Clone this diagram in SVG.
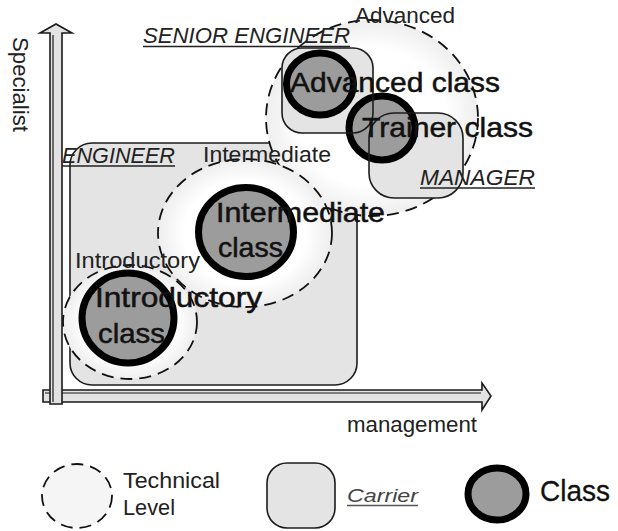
<svg xmlns="http://www.w3.org/2000/svg" width="618" height="531" viewBox="0 0 618 531">
  <defs>
    <radialGradient id="haloFill" cx="0.5" cy="0.5" r="0.5">
      <stop offset="0" stop-color="#ffffff"/>
      <stop offset="0.7" stop-color="#ffffff"/>
      <stop offset="1" stop-color="#eeeeee"/>
    </radialGradient>
  </defs>
  <style>
    .axis { fill: #e2e2e2; stroke: #1a1a1a; stroke-width: 1.6; stroke-linejoin: miter; }
    .axis-shade { stroke: #1a1a1a; stroke-width: 1.2; fill: none; }
    .level { fill: url(#haloFill); stroke: #111; stroke-width: 1.8; stroke-dasharray: 12 7; }
    .carrier-fill { fill: #e4e4e4; stroke: none; }
    .carrier-line { fill: none; stroke: #1c1c1c; stroke-width: 1.6; }
    .carrier { fill: #e4e4e4; stroke: #1c1c1c; stroke-width: 1.6; }
    .class { fill: #9c9c9c; stroke: #000; stroke-width: 7; }
    .big { font-family: "Liberation Sans", Arial, sans-serif; font-size: 28px; fill: #111; stroke: #111; stroke-width: 0.5; }
    .small { font-family: "Liberation Sans", Arial, sans-serif; font-size: 21.5px; fill: #222; }
    .role { font-family: "Liberation Sans", Arial, sans-serif; font-size: 21.5px; font-style: italic; fill: #222; }
    .uline { stroke: #222; stroke-width: 1.5; }
  </style>

  <!-- axes -->
  <g id="connectors">
    <path id="axis-management" class="axis" d="M43,390 L482,390 L482,383 L491,396 L482,410 L482,402 L43,402 Z"/>
    <line class="axis-shade" x1="45" y1="393" x2="481" y2="393"/>
    <path id="axis-specialist" class="axis" d="M50,404 L50,33 L40,33 L56,24 L72,33 L62,33 L62,404 Z"/>
    <line class="axis-shade" x1="53" y1="35" x2="53" y2="402"/>
  </g>

  <!-- ENGINEER carrier -->
  <g id="carrier-engineer">
    <rect class="carrier" x="70" y="143" width="287" height="242" rx="22"/>
  </g>

  <!-- technical levels -->
  <g id="level-advanced">
    <ellipse class="level" cx="372" cy="118" rx="106" ry="98"/>
  </g>
  <g id="level-intermediate">
    <ellipse class="level" cx="245" cy="233" rx="87" ry="74"/>
  </g>
  <g id="level-introductory">
    <ellipse class="level" cx="130" cy="322" rx="67" ry="57"/>
  </g>

  <!-- SENIOR ENGINEER / MANAGER carrier fills -->
  <g id="carrier-senior">
    <rect class="carrier-fill" x="282" y="48" width="91" height="85" rx="20"/>
  </g>
  <g id="carrier-manager">
    <rect class="carrier-fill" x="369" y="113" width="94" height="85" rx="25"/>
  </g>

  <!-- classes -->
  <g id="class-introductory">
    <ellipse class="class" cx="128" cy="318" rx="46" ry="45"/>
  </g>
  <g id="class-intermediate">
    <ellipse class="class" cx="246" cy="232" rx="47.5" ry="44.5"/>
  </g>
  <g id="class-advanced">
    <ellipse class="class" cx="320" cy="84" rx="33.5" ry="31"/>
  </g>
  <g id="class-trainer">
    <ellipse class="class" cx="382" cy="128" rx="33" ry="32"/>
  </g>

  <!-- carrier outlines over the classes -->
  <g id="carrier-outlines">
    <rect class="carrier-line" x="282" y="48" width="91" height="85" rx="20"/>
    <rect class="carrier-line" x="369" y="113" width="94" height="85" rx="25"/>
  </g>

  <!-- labels -->
  <g id="labels">
    <text class="small" transform="translate(13,37) rotate(90)" textLength="95" lengthAdjust="spacingAndGlyphs">Specialist</text>
    <text class="small" x="347" y="432" textLength="130" lengthAdjust="spacingAndGlyphs">management</text>

    <text class="role" x="143" y="43" textLength="207" lengthAdjust="spacingAndGlyphs">SENIOR ENGINEER</text>
    <line class="uline" x1="143" y1="46.5" x2="350" y2="46.5"/>
    <text class="role" x="62" y="163" textLength="113" lengthAdjust="spacingAndGlyphs">ENGINEER</text>
    <line class="uline" x1="62" y1="166" x2="175" y2="166"/>
    <text class="role" x="420" y="185" textLength="115" lengthAdjust="spacingAndGlyphs">MANAGER</text>
    <line class="uline" x1="420" y1="188" x2="535" y2="188"/>

    <text class="small" x="355" y="23" textLength="100" lengthAdjust="spacingAndGlyphs">Advanced</text>
    <text class="small" x="203" y="162" textLength="128" lengthAdjust="spacingAndGlyphs">Intermediate</text>
    <text class="small" x="75" y="268" textLength="125" lengthAdjust="spacingAndGlyphs">Introductory</text>

    <text class="big" x="290" y="92" textLength="210" lengthAdjust="spacingAndGlyphs">Advanced class</text>
    <text class="big" x="362" y="137" textLength="171" lengthAdjust="spacingAndGlyphs">Trainer class</text>
    <text class="big" x="216" y="222" textLength="169" lengthAdjust="spacingAndGlyphs">Intermediate</text>
    <text class="big" x="218" y="257" textLength="65" lengthAdjust="spacingAndGlyphs">class</text>
    <text class="big" x="95" y="307" textLength="167" lengthAdjust="spacingAndGlyphs">Introductory</text>
    <text class="big" x="98" y="343" textLength="67" lengthAdjust="spacingAndGlyphs">class</text>
  </g>

  <!-- legend -->
  <g id="legend-level">
    <ellipse class="level" cx="77" cy="496" rx="35" ry="32" style="fill:#f5f5f5"/>
    <text class="small" x="123" y="488" textLength="97" lengthAdjust="spacingAndGlyphs">Technical</text>
    <text class="small" x="123" y="515" textLength="52" lengthAdjust="spacingAndGlyphs">Level</text>
  </g>
  <g id="legend-carrier">
    <rect class="carrier" x="267" y="463" width="68" height="65" rx="20"/>
    <text class="role" x="347" y="502" style="font-size:18px;fill:#444" textLength="71" lengthAdjust="spacingAndGlyphs">Carrier</text>
    <line x1="347" y1="505.5" x2="418" y2="505.5" stroke="#555" stroke-width="1.5"/>
  </g>
  <g id="legend-class">
    <ellipse class="class" cx="497" cy="494" rx="29" ry="26"/>
    <text class="big" x="540" y="501" style="font-size:30px;stroke-width:0.3" textLength="70" lengthAdjust="spacingAndGlyphs">Class</text>
  </g>
</svg>
